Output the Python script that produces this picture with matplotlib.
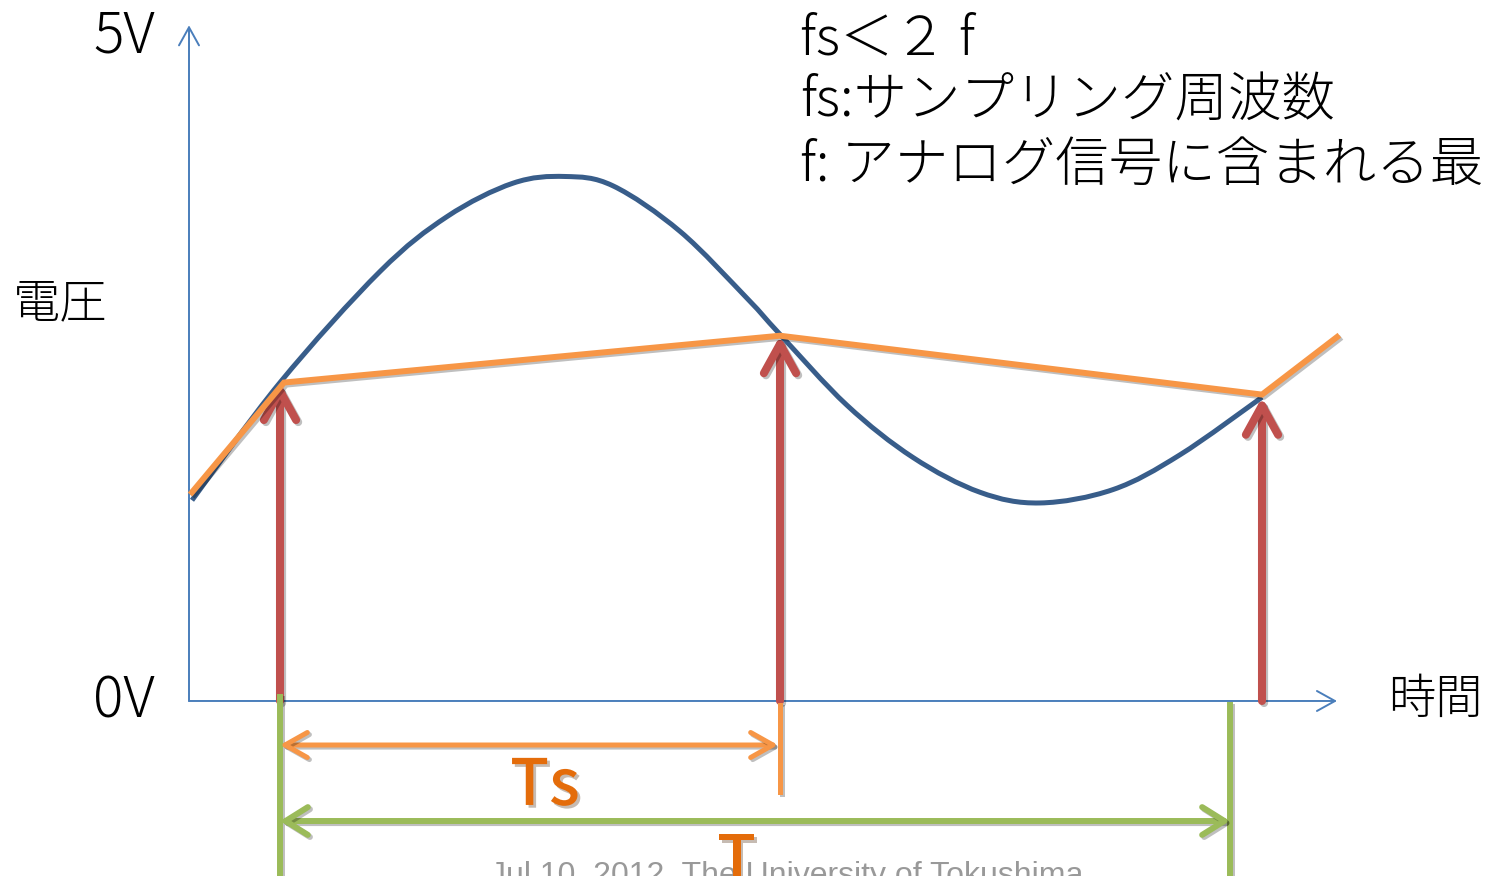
import matplotlib

matplotlib.use("Agg")
import matplotlib.pyplot as plt
import matplotlib.patheffects as pe
from matplotlib.path import Path
from matplotlib.patches import PathPatch

# Analog signal (time in arbitrary units, voltage in V)
signal_t = [0.03, 0.91, 1.91, 2.58, 3.24, 3.76, 4.24, 4.91, 5.58, 5.91,
            6.58, 7.24, 7.91, 8.51, 9.24, 9.91, 10.73]
signal_v = [1.50, 2.38, 3.21, 3.62, 3.87, 3.92, 3.85, 3.51, 3.01, 2.74,
            2.21, 1.82, 1.56, 1.48, 1.58, 1.84, 2.27]

# Sampling instants and sampled values
sample_t = [0.91, 5.91, 10.73]
sample_v = [2.38, 2.73, 2.27]

# Reconstructed (aliased) waveform through the samples
recon_t = [0.03, 0.95, 5.91, 10.73, 11.48]
recon_v = [1.56, 2.38, 2.73, 2.29, 2.72]

v_max = 5.05
t_axis_end = 11.48
ts_span = (0.91, 5.89)
t_span = (0.91, 10.41)
ts_marker_t = 5.91
t_marker_t = 10.41

note_lines = ["fs＜２ f", "fs:サンプリング周波数", "f: アナログ信号に含まれる最"]
footer = "Jul 10, 2012  The University of Tokushima"

BLUE_AXIS = "#4A7EBB"
BLUE = "#385D8A"
RED = "#C0504D"
ORANGE = "#F79646"
ORANGE_TEXT = "#E46C0A"
GREEN = "#9BBB59"

JP = ["Noto Sans CJK JP", "DejaVu Sans"]

fig = plt.figure(figsize=(14.87, 8.76), dpi=100)
ax = fig.add_axes([0, 0, 1, 1])
ax.set_xlim(-1.89, 12.98)
ax.set_ylim(-1.308, 5.239)
ax.axis("off")

shadow_line = [pe.SimpleLineShadow(offset=(1.5, -1.5), alpha=0.25), pe.Normal()]


def arrow(x0, y0, x1, y1, color, lw, style, hl, hw, effects=None, z=2):
    ax.annotate(
        "", xy=(x1, y1), xytext=(x0, y0),
        arrowprops=dict(
            arrowstyle=f"{style},head_length={hl},head_width={hw}",
            color=color, lw=lw, shrinkA=0, shrinkB=0,
            mutation_scale=20, capstyle="round", joinstyle="round",
            path_effects=effects,
        ),
        zorder=z,
    )


def smooth_path(xs, ys):
    # Catmull-Rom through the points, emitted as cubic Bezier segments
    verts = [(xs[0], ys[0])]
    codes = [Path.MOVETO]
    n = len(xs)
    for i in range(n - 1):
        x0, y0 = xs[max(i - 1, 0)], ys[max(i - 1, 0)]
        x1, y1 = xs[i], ys[i]
        x2, y2 = xs[i + 1], ys[i + 1]
        x3, y3 = xs[min(i + 2, n - 1)], ys[min(i + 2, n - 1)]
        c1 = (x1 + (x2 - x0) / 6, y1 + (y2 - y0) / 6)
        c2 = (x2 - (x3 - x1) / 6, y2 - (y3 - y1) / 6)
        verts += [c1, c2, (x2, y2)]
        codes += [Path.CURVE4] * 3
    return Path(verts, codes)


# axes with open arrowheads
arrow(0, 0, 0, v_max, BLUE_AXIS, 1.4, "->", 0.65, 0.36, z=1)
arrow(0, 0, t_axis_end, 0, BLUE_AXIS, 1.4, "->", 0.65, 0.36, z=1)

# sampling arrows
for t, v in zip(sample_t, sample_v):
    arrow(t, 0, t, v, RED, 5.8, "->", 1.05, 0.58, shadow_line, z=2)

ax.add_patch(PathPatch(smooth_path(signal_t, signal_v), facecolor="none",
                       edgecolor=BLUE, lw=3.6, capstyle="butt", zorder=3))
ax.plot(recon_t, recon_v, color=ORANGE, lw=4.3, solid_joinstyle="miter",
        path_effects=shadow_line, zorder=4)

# period markers below the time axis
ax.plot([sample_t[0], sample_t[0]], [0.03, -1.4], color=GREEN, lw=4.3,
        path_effects=shadow_line, zorder=2)
ax.plot([t_marker_t, t_marker_t], [-0.03, -1.4], color=GREEN, lw=4.3,
        path_effects=shadow_line, zorder=2)
ax.plot([ts_marker_t, ts_marker_t], [-0.03, -0.68], color=ORANGE, lw=3.6,
        path_effects=shadow_line, zorder=2)
arrow(ts_span[0], -0.329, ts_span[1], -0.329, ORANGE, 3.6, "<->", 0.8, 0.45,
      shadow_line, z=3)
arrow(t_span[0], -0.897, t_span[1], -0.897, GREEN, 4.3, "<->", 0.8, 0.5,
      shadow_line, z=3)

label_shadow = [pe.withSimplePatchShadow(offset=(2, -2), alpha=0.3)]
ax.text(3.56, -0.777, "Ts", color=ORANGE_TEXT, fontsize=46, family=JP,
        fontweight="medium", ha="center", va="baseline",
        path_effects=label_shadow, zorder=5)
ax.text(5.98, -1.37, footer, color="#999999", fontsize=23,
        family="Liberation Sans", ha="center", va="baseline", zorder=4)
ax.text(5.48, -1.345, "T", color=ORANGE_TEXT, fontsize=46, family=JP,
        fontweight="medium", ha="center", va="baseline",
        path_effects=label_shadow, zorder=5)

# axis labels
ax.text(-0.65, 4.85, "5V", fontsize=41, family=JP, fontweight="light",
        ha="center", va="baseline")
ax.text(-0.65, -0.127, "0V", fontsize=41, family=JP, fontweight="light",
        ha="center", va="baseline")
ax.text(-1.76, 2.87, "電圧", fontsize=34, family=JP, fontweight="light",
        ha="left", va="baseline")
ax.text(11.99, -0.09, "時間", fontsize=34, family=JP, fontweight="light",
        ha="left", va="baseline")

# note on sampling condition
for y, line in zip([4.83, 4.37, 3.89], note_lines):
    ax.text(6.11, y, line, fontsize=38.5, family=JP, fontweight="light",
            ha="left", va="baseline")

fig.savefig("out.png", dpi=100)
